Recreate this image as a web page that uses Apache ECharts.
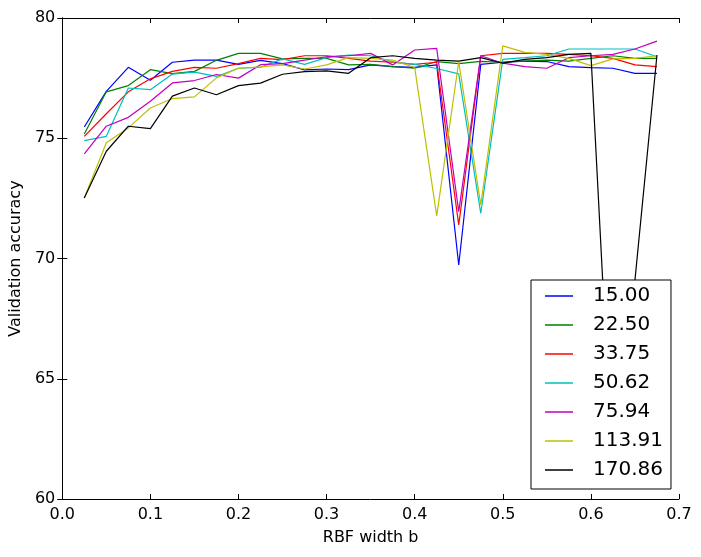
<!DOCTYPE html>
<html>
<head>
<meta charset="utf-8">
<script src="https://cdn.jsdelivr.net/npm/echarts@6/dist/echarts.min.js"></script>
<style>html,body{margin:0;padding:0;background:#fff}#c{width:701px;height:557px}</style>
</head>
<body>
<div id="c"></div>
<script>
const xValues = [0.025,0.05,0.075,0.1,0.125,0.15,0.175,0.2,0.225,0.25,0.275,0.3,0.325,0.35,0.375,0.4,0.425,0.45,0.475,0.5,0.525,0.55,0.575,0.6,0.625,0.65,0.675];
const seriesNames = ["15.00","22.50","33.75","50.62","75.94","113.91","170.86"];
const s15 = [75.47,76.95,77.95,77.41,78.16,78.25,78.25,78.07,78.24,78.1,77.84,77.88,77.85,78.05,77.98,77.95,78.05,69.73,78.07,78.16,78.21,78.19,77.98,77.94,77.91,77.70,77.70];
const s22 = [75.18,76.93,77.19,77.85,77.69,77.78,78.24,78.53,78.53,78.3,78.32,78.32,78.05,78.07,77.98,77.91,78.19,78.1,78.2,78.16,78.21,78.25,78.21,78.32,78.43,78.32,78.32];
const s33 = [75.08,76.02,76.93,77.47,77.78,77.95,77.91,78.1,78.32,78.27,78.43,78.43,78.32,78.21,78.16,78.07,78.16,71.40,78.43,78.53,78.53,78.53,78.49,78.43,78.32,78.05,77.98];
const s50 = [74.90,75.08,77.09,77.02,77.67,77.75,77.57,77.91,77.95,78.3,78.07,78.35,78.46,78.43,78.18,78.07,77.9,77.68,71.88,78.28,78.35,78.43,78.71,78.71,78.71,78.71,78.39];
const s75 = [74.35,75.50,75.87,76.54,77.30,77.40,77.65,77.50,78.06,78.1,78.25,78.39,78.43,78.53,78.05,78.67,78.74,71.95,78.43,78.12,77.98,77.91,78.35,78.43,78.49,78.71,79.04];
const s113 = [72.52,74.81,75.43,76.26,76.65,76.72,77.51,77.91,77.97,78.05,77.88,78.05,78.35,78.32,78.25,77.94,71.77,78.18,72.23,78.84,78.57,78.49,78.32,78.02,78.30,78.32,78.43];
const s170 = [72.52,74.46,75.50,75.40,76.75,77.09,76.81,77.19,77.29,77.66,77.77,77.80,77.70,78.35,78.43,78.32,78.25,78.21,78.35,78.12,78.28,78.35,78.49,78.53,60.9,69.1,78.46];
const allSeries = [s15,s22,s33,s50,s75,s113,s170];
const colors = ["#0000ff","#008000","#ff0000","#00bfbf","#bf00bf","#bfbf00","#000000"];
const xTicks = [0,0.1,0.2,0.3,0.4,0.5,0.6,0.7];
const yTicks = [60,65,70,75,80];

const FONT = "DejaVu Sans";
const chart = echarts.init(document.getElementById('c'), null, {renderer:'canvas'});
const tickCommon = {show:true, inside:true, length:5, lineStyle:{color:'#000',width:1}};
const lineCommon = {show:true, lineStyle:{color:'#000',width:1}};
chart.setOption({
  animation:false,
  backgroundColor:'#fff',
  grid:{left:59,right:22,top:18,bottom:58,containLabel:false},
  legend:{
    orient:'vertical', left:531, top:280,
    data:seriesNames.map(n=>({name:n, icon:'rect'})),
    backgroundColor:'#fff', borderColor:'#000', borderWidth:1, borderRadius:0,
    padding:[6,8,9,14],
    itemWidth:28, itemHeight:1.5, itemGap:9,
    textStyle:{fontFamily:FONT,fontSize:20,lineHeight:20,color:'#000',padding:[0,0,0,15]},
    z:10
  },
  xAxis:[{
    type:'value', min:0, max:0.7, interval:0.1,
    name:'RBF width b', nameLocation:'middle', nameGap:31,
    nameTextStyle:{fontFamily:FONT,fontSize:16,color:'#000'},
    axisLine:lineCommon, axisTick:tickCommon, splitLine:{show:false},
    axisLabel:{fontFamily:FONT,fontSize:16,color:'#000',margin:8,formatter:v=>v.toFixed(1)}
  },{
    type:'value', position:'top', min:0, max:0.7, interval:0.1,
    axisLine:lineCommon, axisTick:tickCommon, splitLine:{show:false}, axisLabel:{show:false}
  }],
  yAxis:[{
    type:'value', min:60, max:80, interval:5,
    name:'Validation accuracy', nameLocation:'middle', nameGap:27,
    nameTextStyle:{fontFamily:FONT,fontSize:16,color:'#000'},
    axisLine:lineCommon, axisTick:tickCommon, splitLine:{show:false},
    axisLabel:{fontFamily:FONT,fontSize:16,color:'#000',margin:7}
  },{
    type:'value', position:'right', min:60, max:80, interval:5,
    axisLine:lineCommon, axisTick:tickCommon, splitLine:{show:false}, axisLabel:{show:false}
  }],
  series: seriesNames.map((n,i)=>({
    name:n, type:'line', xAxisIndex:0, yAxisIndex:0,
    data: xValues.map((x,j)=>[x, allSeries[i][j]]),
    symbol:'none', showSymbol:false,
    lineStyle:{color:colors[i], width:1.2},
    itemStyle:{color:colors[i]},
    z:2
  }))
});
</script>
</body>
</html>
